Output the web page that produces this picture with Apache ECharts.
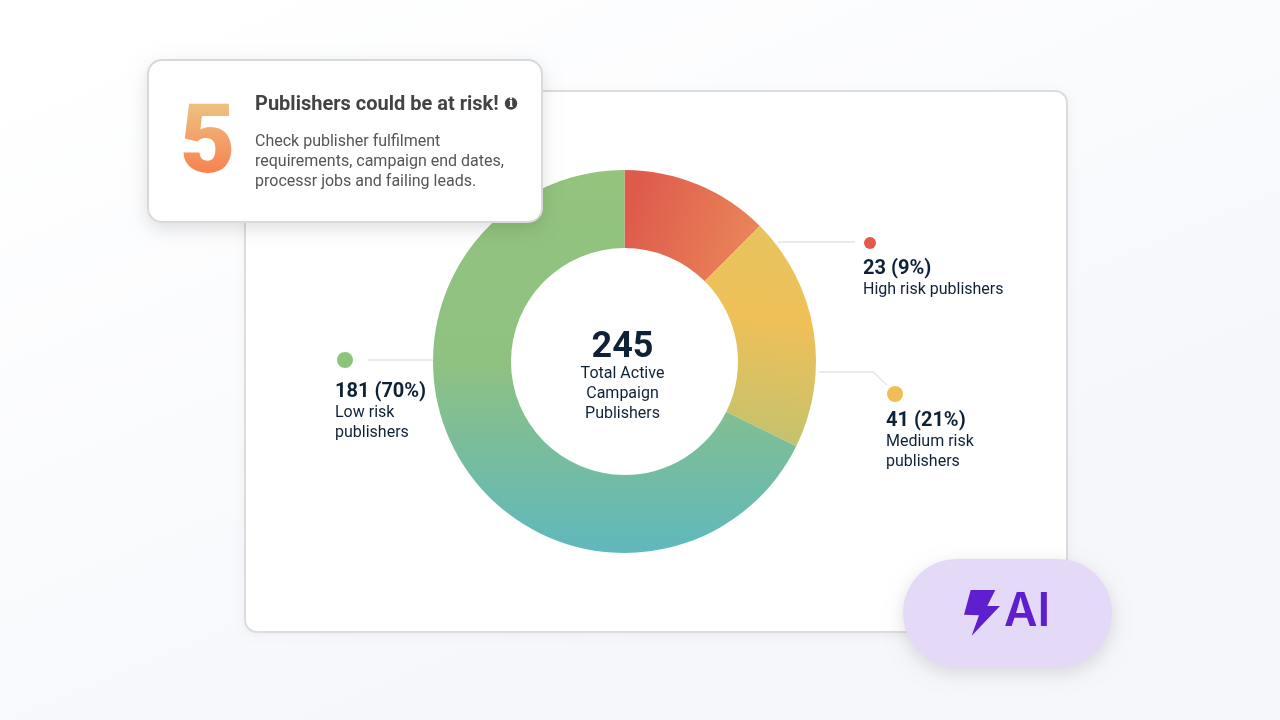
<!DOCTYPE html>
<html>
<head>
<meta charset="utf-8">
<title>Publishers at risk</title>
<script src="https://cdn.jsdelivr.net/npm/echarts@6/dist/echarts.min.js"></script>
<style>
html, body { margin: 0; padding: 0; background: #fff; }
#main { width: 1280px; height: 720px; }
</style>
</head>
<body>
<div id="main"></div>
<script>
// slice order: high, medium, low
var riskNames = ['High risk publishers', 'Medium risk publishers', 'Low risk publishers'];
var riskCounts = [23, 41, 181];
var riskPercents = [9, 21, 70];
// share of the ring as drawn, the picture does not follow its own labels
var ringShares = [12.5, 19.8, 67.7];
var totalCount = 245;
var totalLines = ['Total Active', 'Campaign', 'Publishers'];
var alertNumber = '5';
var alertTitle = 'Publishers could be at risk!';
var alertLines = ['Check publisher fulfilment', 'requirements, campaign end dates,', 'processr jobs and failing leads.'];
var badgeText = 'AI';

var FONT = 'Roboto, sans-serif';
var INK = '#0f2136';

function grad(x, y, x2, y2, stops) {
    return {
        type: 'linear', x: x, y: y, x2: x2, y2: y2, global: true,
        colorStops: stops.map(function (s) { return { offset: s[0], color: s[1] }; })
    };
}

var sliceColors = [
    grad(625, 215, 750, 255, [[0, '#de5a4b'], [1, '#e9855a']]),
    grad(800, 227, 770, 446, [[0, '#e5c45e'], [0.42, '#f0c058'], [1, '#c3c26e']]),
    grad(625, 170, 625, 553, [[0, '#93c37d'], [0.5, '#8fc182'], [1, '#5fb8bd']])
];

function txt(x, y, text, size, weight, color, align, family) {
    return {
        type: 'text', z: 20, silent: true,
        style: {
            x: x, y: y, text: text, fill: color,
            font: weight + ' ' + size + 'px ' + (family || FONT),
            textAlign: align || 'left', textVerticalAlign: 'middle'
        }
    };
}

function poly(points) {
    return {
        type: 'polyline', z: 1, silent: true,
        shape: { points: points },
        style: { stroke: '#e4e5e8', lineWidth: 1.4, fill: null }
    };
}

function dot(x, y, r, color) {
    return { type: 'circle', z: 20, silent: true, shape: { cx: x, cy: y, r: r }, style: { fill: color } };
}

// shadow and border kept apart, else the stroke's shadow falls inside the card
function card(x, y, w, h, r, z, border, blur, alpha, offsetY) {
    return [{
        type: 'rect', z: z, silent: true,
        shape: { x: x, y: y, width: w, height: h, r: r },
        style: { fill: '#fff', shadowBlur: blur, shadowColor: 'rgba(0,0,0,' + alpha + ')', shadowOffsetY: offsetY }
    }, {
        type: 'rect', z: z + 0.1, silent: true,
        shape: { x: x, y: y, width: w, height: h, r: r },
        style: { fill: null, stroke: border, lineWidth: 2 }
    }];
}

function countLabel(i) {
    return riskCounts[i] + ' (' + riskPercents[i] + '%)';
}

var elements = [
    // page background
    {
        type: 'rect', z: -10, silent: true,
        shape: { x: 0, y: 0, width: 1280, height: 720 },
        style: { fill: grad(200, 0, 500, 720, [[0, '#ffffff'], [1, '#f5f7fb']]) }
    }
].concat(card(245, 91, 822, 541, 12, -5, '#dcdcdc', 10, 0.05, 2), [
    // leader lines
    poly([[778, 242], [855, 242]]),
    poly([[819, 372], [873, 372], [887, 385]]),
    poly([[368, 360], [433, 360]]),
    dot(870, 243, 6, '#e4594a'),
    dot(895, 394, 8, '#efbe57'),
    dot(345, 360, 8, '#8cc47c'),
    // labels
    txt(863, 269, countLabel(0), 20, 700, INK),
    txt(863, 290, riskNames[0], 16, 400, INK),
    txt(886, 421, countLabel(1), 20, 700, INK),
    txt(886, 442, 'Medium risk', 16, 400, INK),
    txt(886, 462, 'publishers', 16, 400, INK),
    txt(335, 392, countLabel(2), 20, 700, INK),
    txt(335, 413, 'Low risk', 16, 400, INK),
    txt(335, 433, 'publishers', 16, 400, INK),
    // centre of the ring
    txt(622.5, 348, String(totalCount), 36, 700, INK, 'center'),
    txt(622.5, 374, totalLines[0], 16, 400, INK, 'center'),
    txt(622.5, 394, totalLines[1], 16, 400, INK, 'center'),
    txt(622.5, 414, totalLines[2], 16, 400, INK, 'center')
], card(148, 60, 394, 162, 14, 10, '#d9d9d9', 18, 0.13, 6), [
    txt(255, 105, alertTitle, 20, 700, '#444444'),
    dot(511, 103.5, 6.2, '#444444'),
    txt(511, 104, 'i', 12, 700, '#ffffff', 'center', '"DejaVu Serif", serif'),
    txt(255, 141.5, alertLines[0], 16, 400, '#555555'),
    txt(255, 161.5, alertLines[1], 16, 400, '#555555'),
    txt(255, 181.5, alertLines[2], 16, 400, '#555555'),
    // AI badge
    {
        type: 'rect', z: 10, silent: true,
        shape: { x: 903, y: 559, width: 209, height: 108, r: 54 },
        style: { fill: '#e4daf8', shadowBlur: 18, shadowColor: 'rgba(0,0,0,0.13)', shadowOffsetY: 6 }
    },
    {
        type: 'polygon', z: 20, silent: true,
        shape: { points: [[970.7, 590], [995.3, 590], [987.3, 606], [1000, 606], [971.7, 635.7], [979, 615.3], [964, 614.7]] },
        style: { fill: '#5f1fcf' }
    },
    {
        type: 'text', z: 20, silent: true,
        style: {
            x: 1004, y: 612.5, text: badgeText, fill: '#5f1fcf',
            font: '600 46px Inter, sans-serif', textAlign: 'left', textVerticalAlign: 'middle'
        }
    }
]);

var myChart = echarts.init(document.getElementById('main'));
myChart.setOption({
    animation: false,
    graphic: { elements: elements },
    series: [{
        type: 'pie',
        z: 2,
        silent: true,
        center: [624.5, 361.5],
        radius: [113.5, 191.5],
        startAngle: 90,
        label: { show: false },
        labelLine: { show: false },
        data: riskNames.map(function (name, i) {
            return { name: name, value: ringShares[i], itemStyle: { color: sliceColors[i] } };
        })
    }]
});

// text can't take a gradient fill here, so the big 5 is stacked from clipped bands
var zr = myChart.getZr();
for (var y = 100; y < 180; y += 2) {
    var t = Math.min(1, Math.max(0, (y - 105) / 70));
    var band = new echarts.graphic.Text({
        z: 20,
        silent: true,
        style: {
            x: 207.5, y: 148, text: alertNumber,
            fill: echarts.color.lerp(t, ['#ecc07f', '#f87f4e']),
            font: '900 96px ' + FONT, align: 'center', verticalAlign: 'middle'
        }
    });
    band.setClipPath(new echarts.graphic.Rect({ shape: { x: 150, y: y, width: 120, height: 2 } }));
    zr.add(band);
}
</script>
</body>
</html>
